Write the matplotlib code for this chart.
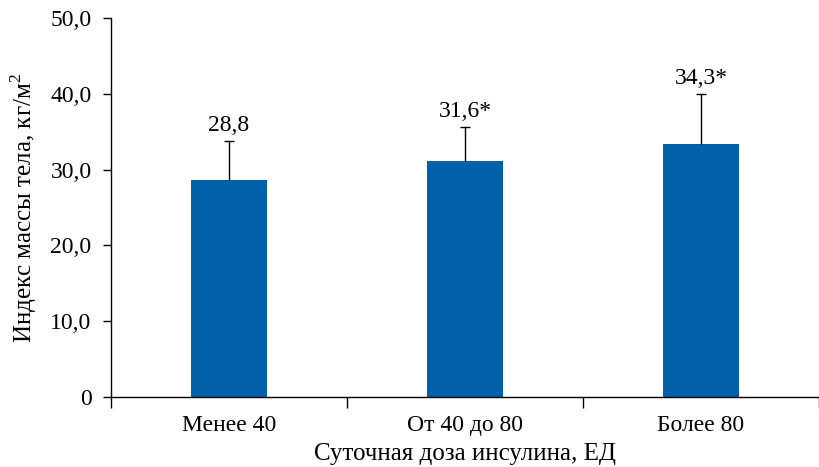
import matplotlib
matplotlib.use("Agg")
import matplotlib.pyplot as plt
import numpy as np

categories = ["Менее 40", "От 40 до 80", "Более 80"]
means = [28.6, 31.2, 33.4]
err_up = [5.2, 4.4, 6.6]
labels = ["28,8", "31,6*", "34,3*"]
yticks = [0, 10, 20, 30, 40, 50]
ytick_labels = ["0", "10,0", "20,0", "30,0", "40,0", "50,0"]

plt.rcParams['font.family'] = ['Liberation Serif', 'DejaVu Serif']
plt.rcParams['mathtext.fontset'] = 'custom'
plt.rcParams['mathtext.rm'] = 'Liberation Serif'

fig = plt.figure(figsize=(8.19, 4.67), dpi=100)
ax = fig.add_axes([0.1355, 0.150, 0.8645, 0.811])

x = np.arange(len(categories))
tops = np.array(means) + np.array(err_up)
ax.bar(x, means, width=0.32, color="#0061AA", zorder=2)
ax.vlines(x, means, tops, color="black", linewidth=1.0, zorder=3)
ax.plot(x, tops, linestyle="none", marker="_", markersize=7,
        markeredgewidth=1.0, color="black", zorder=3)
for xi, t, lab in zip(x, tops, labels):
    ax.text(xi, t + 0.7, lab, ha="center", va="bottom", fontsize=17)

ax.set_xlim(-0.5, 2.5)
ax.set_ylim(0, 50)
ax.set_yticks(yticks)
ax.set_yticklabels(ytick_labels, fontsize=17)
ax.set_xticks([-0.5, 0.5, 1.5, 2.5])
ax.set_xticklabels([])
ax.set_xticks(x, minor=True)
ax.set_xticklabels(categories, minor=True, fontsize=17)
ax.tick_params(axis="x", which="minor", length=0, pad=13)
ax.tick_params(axis="x", which="major", length=8, width=1)
ax.tick_params(axis="y", length=6, width=1, pad=8)

for s in ["top", "right"]:
    ax.spines[s].set_visible(False)
ax.spines["left"].set_linewidth(1)
ax.spines["bottom"].set_linewidth(1)

ax.set_ylabel("Индекс массы тела, кг/м$^{2}$", fontsize=18, labelpad=8)
ax.set_xlabel("Суточная доза инсулина, ЕД", fontsize=18, labelpad=5)

fig.savefig("out.png", dpi=100)
